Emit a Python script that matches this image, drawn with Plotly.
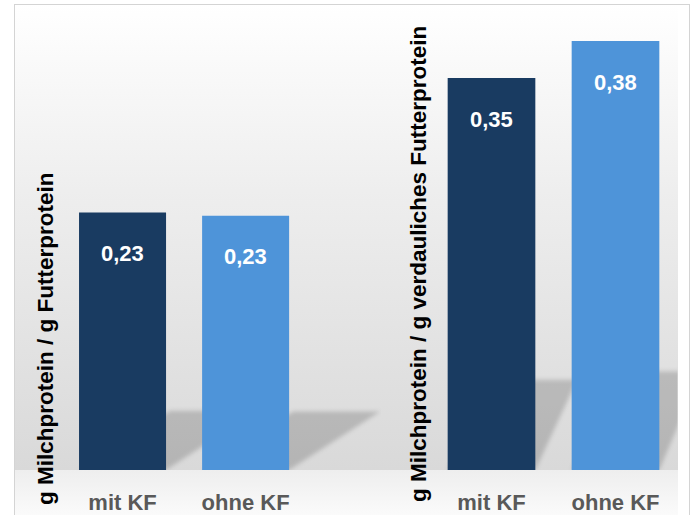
import base64
import plotly.graph_objects as go

# --- data -------------------------------------------------------------
categories = ["mit KF", "ohne KF"]
protein_per_feed = [0.23, 0.227]          # g Milchprotein / g Futterprotein
protein_per_digestible = [0.35, 0.383]    # g Milchprotein / g verdauliches Futterprotein
axis_titles = [
    "g Milchprotein / g Futterprotein",
    "g Milchprotein / g verdauliches Futterprotein",
]
bar_colors = ["#193B61", "#4E94D9"]

# --- layout constants --------------------------------------------------
W, H = 694, 515
FONT = "Liberation Sans, Arial, sans-serif"
Y_RANGE = [0, 0.4]
Y_DOMAIN = [45 / H, 493 / H]
X_DOMAINS = [[61 / W, 381 / W], [429.5 / W, 677.5 / W]]
X_RANGES = [[-0.5, 2.1], [-0.5, 1.5]]
BARGAP = 0.293
SHADOW_DX = [91, 42]      # slant of the floor shadow in each panel (px)
SHADOW_RATIO = 0.23       # shadow depth relative to bar height
SHADOW_PAD = 8

base_px = H * (1 - Y_DOMAIN[0])
y_ppu = (Y_DOMAIN[1] - Y_DOMAIN[0]) * H / (Y_RANGE[1] - Y_RANGE[0])


def svg_uri(svg):
    return "data:image/svg+xml;base64," + base64.b64encode(svg.encode()).decode()


# wall/floor backdrop with a thin frame
bg_svg = f"""<svg xmlns="http://www.w3.org/2000/svg" width="{W}" height="{H}" viewBox="0 0 {W} {H}">
<defs>
<linearGradient id="wall" x1="0" y1="0" x2="0" y2="1">
<stop offset="0" stop-color="#ffffff"/><stop offset="0.4" stop-color="#eeeeee"/><stop offset="1" stop-color="#d9d9d9"/>
</linearGradient>
<linearGradient id="floor" x1="0" y1="0" x2="0" y2="1">
<stop offset="0" stop-color="#eeeeee"/><stop offset="1" stop-color="#fcfcfc"/>
</linearGradient>
</defs>
<rect width="{W}" height="{H}" fill="#ffffff"/>
<rect x="14" y="4" width="664" height="{base_px - 4}" fill="url(#wall)"/>
<rect x="14" y="{base_px}" width="664" height="{H - base_px + 5}" fill="url(#floor)"/>
<rect x="14.5" y="4.5" width="675" height="530" fill="none" stroke="#d4d4d4"/>
</svg>"""

images = [dict(source=svg_uri(bg_svg), xref="paper", yref="paper", x=0, y=1,
               sizex=1, sizey=1, xanchor="left", yanchor="top",
               sizing="stretch", layer="below")]

fig = go.Figure()
annotations = []
bw = 1 - BARGAP
panels = [protein_per_feed, protein_per_digestible]

for p, values in enumerate(panels):
    xa = "x" if p == 0 else "x2"
    ya = "y" if p == 0 else "y2"
    xs = list(range(len(categories)))
    fig.add_trace(go.Bar(
        x=xs, y=values, marker=dict(color=bar_colors, line=dict(width=0)),
        xaxis=xa, yaxis=ya, hoverinfo="skip", showlegend=False,
    ))
    x_ppu = (X_DOMAINS[p][1] - X_DOMAINS[p][0]) * W / (X_RANGES[p][1] - X_RANGES[p][0])
    for i, v in enumerate(values):
        # value label inside the bar
        annotations.append(dict(
            x=i, y=v, xref=xa, yref=ya, yshift=-41, showarrow=False,
            text=f"{v:.2f}".replace(".", ","),
            font=dict(family=FONT, size=22, color="white", weight="bold"),
        ))
        # soft floor shadow behind the bar
        w_px = bw * x_ppu
        dy = SHADOW_RATIO * v * y_ppu
        dx = SHADOW_DX[p]
        P = SHADOW_PAD
        box_w, box_h = w_px + dx + 2 * P, dy + 2 * P
        pts = f"{P},{P + dy} {P + w_px},{P + dy} {P + w_px + dx},{P} {P + dx},{P}"
        sh_svg = f"""<svg xmlns="http://www.w3.org/2000/svg" width="{box_w:.1f}" height="{box_h:.1f}" viewBox="0 0 {box_w:.1f} {box_h:.1f}">
<defs><filter id="b" x="-20%" y="-20%" width="140%" height="140%"><feGaussianBlur stdDeviation="2.2"/></filter></defs>
<polygon points="{pts}" fill="#000000" fill-opacity="0.17" filter="url(#b)"/>
</svg>"""
        images.append(dict(
            source=svg_uri(sh_svg), xref=xa, yref=ya,
            x=i - bw / 2 - P / x_ppu, y=(dy + P) / y_ppu,
            sizex=box_w / x_ppu, sizey=box_h / y_ppu,
            xanchor="left", yanchor="top", sizing="stretch", layer="below",
        ))

# rotated value-axis titles
title_centers = [(45, 339), (418, 264)]
for t, (cx, cy) in zip(axis_titles, title_centers):
    annotations.append(dict(
        x=cx / W, y=1 - cy / H, xref="paper", yref="paper", showarrow=False,
        text=t, textangle=-90, xanchor="center", yanchor="middle",
        font=dict(family=FONT, size=22.5, color="#000000", weight="bold"),
    ))

xaxis_common = dict(
    tickmode="array", tickvals=list(range(len(categories))), ticktext=categories,
    showgrid=False, zeroline=False, showline=False, ticks="",
    tickfont=dict(family=FONT, size=22, color="#595959", weight="bold"),
    ticklabelstandoff=17, automargin=False, fixedrange=True,
)
yaxis_common = dict(
    range=Y_RANGE, domain=Y_DOMAIN, showgrid=False, zeroline=False,
    showline=False, showticklabels=False, ticks="", automargin=False,
    fixedrange=True,
)

fig.update_layout(
    width=W, height=H, margin=dict(l=0, r=0, t=0, b=0),
    paper_bgcolor="white", plot_bgcolor="rgba(0,0,0,0)",
    bargap=BARGAP, showlegend=False,
    xaxis=dict(domain=X_DOMAINS[0], range=X_RANGES[0], anchor="y", **xaxis_common),
    xaxis2=dict(domain=X_DOMAINS[1], range=X_RANGES[1], anchor="y2", **xaxis_common),
    yaxis=dict(anchor="x", **yaxis_common),
    yaxis2=dict(anchor="x2", **yaxis_common),
    images=images, annotations=annotations,
)

fig.write_html("out.html")
